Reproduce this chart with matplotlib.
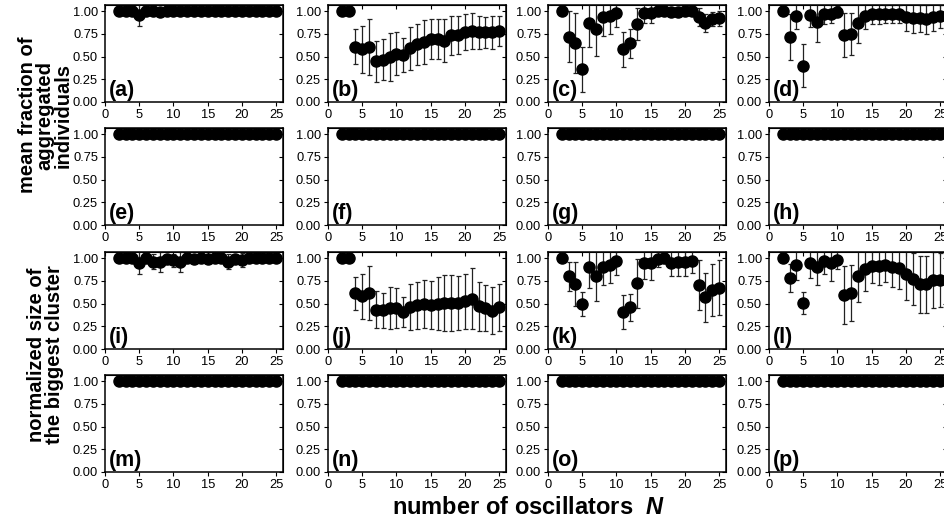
import matplotlib
matplotlib.use('Agg')
import matplotlib.pyplot as plt
from matplotlib.ticker import FormatStrFormatter

plt.rcParams['font.family'] = ['Liberation Sans', 'DejaVu Sans']
plt.rcParams['mathtext.fontset'] = 'custom'
plt.rcParams['mathtext.it'] = 'Liberation Sans:italic:bold'

# number of oscillators
n_osc = [2, 3, 4, 5, 6, 7, 8, 9, 10, 11, 12, 13, 14, 15, 16, 17, 18, 19, 20, 21, 22, 23, 24, 25]
ones = [1.0] * len(n_osc)
zeros = [0.0] * len(n_osc)

# mean fraction of aggregated individuals
mean_a = [1.0, 1.0, 0.995, 0.96, 0.995, 0.995, 0.985, 0.995, 0.995, 0.995, 0.995, 0.995,
          0.995, 0.995, 0.995, 0.995, 0.995, 0.995, 0.995, 0.995, 0.995, 0.995, 0.995, 0.995]
err_a = [0.0, 0.0, 0.01, 0.12, 0.01, 0.01, 0.02, 0.01, 0.01, 0.01, 0.01, 0.01,
         0.01, 0.01, 0.01, 0.01, 0.01, 0.01, 0.01, 0.01, 0.01, 0.01, 0.01, 0.01]
mean_b = [1.0, 1.0, 0.607, 0.577, 0.607, 0.45, 0.467, 0.496, 0.533, 0.515, 0.588, 0.632,
          0.66, 0.69, 0.69, 0.673, 0.735, 0.74, 0.77, 0.78, 0.765, 0.765, 0.765, 0.78]
err_b = [0.0, 0.0, 0.19, 0.26, 0.31, 0.225, 0.23, 0.26, 0.24, 0.19, 0.235, 0.23,
         0.245, 0.22, 0.22, 0.235, 0.215, 0.21, 0.2, 0.2, 0.18, 0.17, 0.18, 0.16]
mean_c = [1.0, 0.717, 0.65, 0.36, 0.87, 0.80, 0.93, 0.945, 0.974, 0.577, 0.643, 0.853,
          0.974, 0.974, 1.0, 1.0, 0.99, 0.99, 1.0, 1.0, 0.93, 0.87, 0.91, 0.92]
err_c = [0.0, 0.28, 0.33, 0.245, 0.27, 0.29, 0.21, 0.2, 0.15, 0.19, 0.16, 0.175,
         0.11, 0.11, 0.03, 0.03, 0.04, 0.05, 0.04, 0.04, 0.1, 0.1, 0.08, 0.08]
mean_d = [1.0, 0.717, 0.945, 0.40, 0.96, 0.88, 0.97, 0.97, 0.99, 0.735, 0.75, 0.87,
          0.945, 0.967, 0.967, 0.97, 0.97, 0.967, 0.93, 0.92, 0.92, 0.91, 0.93, 0.94]
err_d = [0.0, 0.25, 0.14, 0.24, 0.14, 0.22, 0.11, 0.1, 0.06, 0.24, 0.23, 0.22,
         0.14, 0.11, 0.11, 0.1, 0.1, 0.1, 0.15, 0.16, 0.15, 0.16, 0.15, 0.13]

# normalized size of the biggest cluster
mean_i = [1.0, 1.0, 0.995, 0.95, 0.995, 0.96, 0.957, 0.99, 0.975, 0.957, 0.995, 0.985,
          0.995, 0.99, 0.995, 0.995, 0.96, 0.985, 0.98, 0.995, 0.995, 0.995, 0.995, 0.995]
err_i = [0.0, 0.0, 0.01, 0.13, 0.01, 0.08, 0.11, 0.02, 0.07, 0.11, 0.01, 0.04,
         0.01, 0.05, 0.01, 0.01, 0.08, 0.04, 0.08, 0.01, 0.01, 0.01, 0.01, 0.01]
mean_j = [1.0, 1.0, 0.614, 0.578, 0.614, 0.433, 0.426, 0.45, 0.45, 0.408, 0.462, 0.48,
          0.495, 0.487, 0.498, 0.505, 0.505, 0.505, 0.523, 0.552, 0.47, 0.45, 0.422, 0.458]
err_j = [0.0, 0.0, 0.18, 0.25, 0.3, 0.2, 0.19, 0.235, 0.22, 0.165, 0.25, 0.26,
         0.265, 0.265, 0.29, 0.305, 0.305, 0.3, 0.3, 0.335, 0.27, 0.25, 0.26, 0.26]
mean_k = [1.0, 0.80, 0.715, 0.495, 0.90, 0.805, 0.90, 0.92, 0.968, 0.404, 0.458, 0.722,
          0.95, 0.95, 0.99, 1.0, 0.95, 0.957, 0.957, 0.968, 0.704, 0.567, 0.65, 0.675]
err_k = [0.0, 0.16, 0.245, 0.13, 0.235, 0.28, 0.2, 0.2, 0.16, 0.185, 0.145, 0.27,
         0.18, 0.19, 0.09, 0.05, 0.15, 0.15, 0.15, 0.13, 0.27, 0.265, 0.285, 0.3]
mean_l = [1.0, 0.783, 0.92, 0.505, 0.95, 0.90, 0.968, 0.94, 0.975, 0.596, 0.614, 0.805,
          0.877, 0.913, 0.913, 0.928, 0.90, 0.892, 0.823, 0.769, 0.711, 0.711, 0.758, 0.758]
err_l = [0.0, 0.155, 0.16, 0.12, 0.17, 0.2, 0.14, 0.19, 0.1, 0.32, 0.31, 0.29,
         0.245, 0.19, 0.21, 0.19, 0.215, 0.23, 0.28, 0.29, 0.315, 0.315, 0.31, 0.3]

panels = [
    ('(a)', mean_a, err_a), ('(b)', mean_b, err_b), ('(c)', mean_c, err_c), ('(d)', mean_d, err_d),
    ('(e)', ones, zeros), ('(f)', ones, zeros), ('(g)', ones, zeros), ('(h)', ones, zeros),
    ('(i)', mean_i, err_i), ('(j)', mean_j, err_j), ('(k)', mean_k, err_k), ('(l)', mean_l, err_l),
    ('(m)', ones, zeros), ('(n)', ones, zeros), ('(o)', ones, zeros), ('(p)', ones, zeros),
]

W, H = 945, 525
fig = plt.figure(figsize=(W / 100, H / 100), dpi=100)

col_left = [105, 328, 548, 769]
row_bottom = [102, 225, 349, 472]
ax_w, ax_h = 178, 97

for k, (label, mean, err) in enumerate(panels):
    r, c = divmod(k, 4)
    ax = fig.add_axes([col_left[c] / W, 1 - row_bottom[r] / H, ax_w / W, ax_h / H])
    ax.errorbar(n_osc, mean, yerr=err, fmt='o', color='black', ms=8,
                ecolor='#222222', elinewidth=0.9, capsize=1.8, capthick=0.9)
    ax.set_xlim(0, 26)
    ax.set_ylim(0, 1.066)
    ax.set_xticks([0, 5, 10, 15, 20, 25])
    ax.set_yticks([0, 0.25, 0.5, 0.75, 1.0])
    ax.yaxis.set_major_formatter(FormatStrFormatter('%.2f'))
    ax.tick_params(direction='out', length=3, width=0.8, labelsize=9.3, pad=2)
    for s in ax.spines.values():
        s.set_linewidth(1.1)
    top = ax.secondary_xaxis('top')
    top.set_xticks([0, 5, 10, 15, 20, 25])
    top.tick_params(direction='in', length=3, width=0.8, labeltop=False)
    right = ax.secondary_yaxis('right')
    right.set_yticks([0, 0.25, 0.5, 0.75, 1.0])
    right.tick_params(direction='in', length=3, width=0.8, labelright=False)
    ax.text(0.02, 0.015, label, transform=ax.transAxes, fontsize=15.5,
            fontweight='bold', ha='left', va='bottom')

fig.text(0.048, 1 - 115 / H, 'mean fraction of\naggregated\nindividuals', rotation=90,
         ha='center', va='center', fontsize=14.5, fontweight='bold', linespacing=0.95)
fig.text(0.048, 1 - 355 / H, 'normalized size of\nthe biggest cluster', rotation=90,
         ha='center', va='center', fontsize=14.5, fontweight='bold', linespacing=0.95)
fig.text(528 / W, 1 - 507 / H, r'number of oscillators  $N$', ha='center', va='center',
         fontsize=17, fontweight='bold')

fig.savefig('out.png', dpi=100)
